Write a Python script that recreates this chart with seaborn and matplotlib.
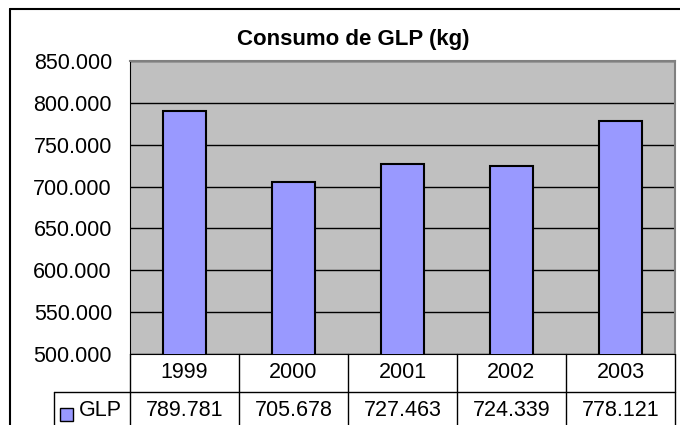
import matplotlib
matplotlib.use("Agg")
import matplotlib.pyplot as plt
import matplotlib.transforms as mtransforms
from matplotlib.lines import Line2D
from matplotlib.patches import Rectangle
import seaborn as sns
import pandas as pd

anos = ["1999", "2000", "2001", "2002", "2003"]
consumo = [789781, 705678, 727463, 724339, 778121]
rotulos_tabela = ["789.781", "705.678", "727.463", "724.339", "778.121"]
ticks_y = [500000, 550000, 600000, 650000, 700000, 750000, 800000, 850000]

sns.set_style("white")
plt.rcParams['font.family'] = ['Liberation Sans', 'DejaVu Sans']
plt.rcParams['text.color'] = 'black'
plt.rcParams['ytick.color'] = 'black'
plt.rcParams['ytick.labelcolor'] = 'black'

FS = 15.5

df = pd.DataFrame({"ano": anos, "GLP": consumo})

W, H = 680, 425
fig = plt.figure(figsize=(W / 100, H / 100), dpi=100)
fig.patch.set_facecolor("white")

# area do grafico em pixels: x 130-675, y 61-354
ax = fig.add_axes([130 / W, 1 - 354 / H, 545 / W, 293 / H])
ax.set_facecolor("#C0C0C0")

sns.barplot(data=df, x="ano", y="GLP", color="#9999FF", width=0.4,
            edgecolor="black", linewidth=1.5, saturation=1, ax=ax, zorder=3)

ax.set_ylim(500000, 850000)
ax.set_xlim(-0.5, 4.5)
ax.set_yticks(ticks_y)
ax.set_yticklabels([f"{v:,}".replace(",", ".") for v in ticks_y], fontsize=FS)
ax.set_xticks([])
ax.set_xlabel("")
ax.set_ylabel("")
ax.tick_params(axis="y", direction="out", length=5, width=1, color="black", pad=8)
ax.yaxis.grid(True, color="black", linewidth=1)
ax.set_axisbelow(True)

for s in ["top", "right"]:
    ax.spines[s].set_color("#808080")
    ax.spines[s].set_linewidth(1.5)
ax.spines["left"].set_color("black")
ax.spines["bottom"].set_color("black")

# tabela de dados
trans = mtransforms.blended_transform_factory(ax.transData, ax.transAxes)
px = 1 / 293
y_linha1 = -38 * px
y_fim = -80 * px

for i in range(6):
    x = i - 0.5
    ax.add_line(Line2D([x, x], [0, y_fim], transform=trans, color="black",
                       linewidth=1, clip_on=False))

x_leg = (54 - 130) / 545
ax.add_line(Line2D([x_leg, 1], [y_linha1, y_linha1], transform=ax.transAxes,
                   color="black", linewidth=1, clip_on=False))
ax.add_line(Line2D([x_leg, x_leg], [y_linha1, y_fim], transform=ax.transAxes,
                   color="black", linewidth=1, clip_on=False))

for i, (ano, rot) in enumerate(zip(anos, rotulos_tabela)):
    ax.text(i, -19 * px, ano, transform=trans, ha="center", va="center",
            fontsize=FS)
    ax.text(i, -57 * px, rot, transform=trans, ha="center", va="center",
            fontsize=FS)

ax.add_patch(Rectangle(((60 - 130) / 545, -67 * px), 13 / 545, 13 * px,
                       transform=ax.transAxes, facecolor="#9999FF",
                       edgecolor="black", linewidth=1, clip_on=False))
ax.text((79 - 130) / 545, -57 * px, "GLP", transform=ax.transAxes,
        ha="left", va="center", fontsize=FS)

# moldura externa
fig.add_artist(Line2D([10 / W, 10 / W], [0, 1 - 9 / H], color="black", linewidth=1.5))
fig.add_artist(Line2D([10 / W, 1], [1 - 9 / H, 1 - 9 / H], color="black", linewidth=1.5))

fig.text(353 / W, 1 - 40 / H, "Consumo de GLP (kg)", ha="center", va="center",
         fontsize=16, fontweight="bold")

fig.savefig("out.png", dpi=100)
